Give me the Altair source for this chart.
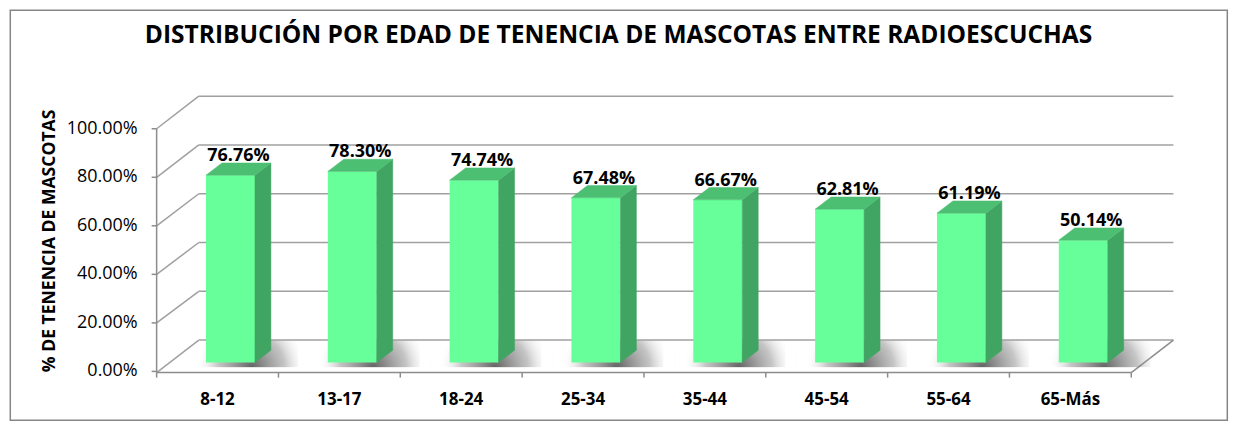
import altair as alt
import pandas as pd

# ---- data ----
categories = ["8-12", "13-17", "18-24", "25-34", "35-44", "45-54", "55-64", "65-Más"]
values = [76.76, 78.30, 74.74, 67.48, 66.67, 62.81, 61.19, 50.14]
y_ticks = [0, 20, 40, 60, 80, 100]
title_text = "DISTRIBUCIÓN POR EDAD DE TENENCIA DE MASCOTAS ENTRE RADIOESCUCHAS"
y_title = "% DE TENENCIA DE MASCOTAS"

# ---- pseudo-3D geometry (style constants, in data units) ----
BAR_L, BAR_W = 0.405, 0.402
BASE, SCALE = 3.7, 1.005
DX, DY = 0.131, 5.05
WALL_DX, WALL_Y0, WALL_SCALE = 0.346, 12.9, 1.0054
FLOOR_Y = -0.5
N = len(categories)
PX_X = 1 / 122.1     # one pixel in x data units
PX_Y = 1 / 2.432     # one pixel in y data units

FRONT, SIDE, TOP = "#66FF99", "#40A563", "#4CBF73"
GRID = "#A0A0A0"
AXC = "#8C8C8C"
FONT = "Open Sans"

xs = alt.Scale(domain=[0, N + 0.36], nice=False, zero=False)
ys = alt.Scale(domain=[FLOOR_Y, 114.2], nice=False, zero=False)

rows = []
for i, (c, v) in enumerate(zip(categories, values)):
    xl = i + BAR_L
    xr = xl + BAR_W
    yb = BASE
    yt = BASE + SCALE * v
    rows.append(dict(cat=c, v=v, xl=xl, xr=xr, yb=yb, yt=yt,
                     xc=(xl + xr) / 2 + DX / 2, ylab=yt + DY, xcat=i + 0.5,
                     sx0=i + 0.25, sx1=i + 1.16, sy0=BASE - 2.0, sy1=WALL_Y0 - 0.3,
                     yc=FLOOR_Y, lab=f"{v:.2f}%"))
bars = pd.DataFrame(rows)

side_rows, top_rows = [], []
for r in rows:
    side_rows.append(dict(cat=r["cat"], sxp=r["xr"], slo=r["yb"], shi=r["yt"]))
    side_rows.append(dict(cat=r["cat"], sxp=r["xr"] + DX, slo=r["yb"] + DY, shi=r["yt"] + DY))
    top_rows.append(dict(cat=r["cat"], typ=r["yt"], txa=r["xl"], txb=r["xr"]))
    top_rows.append(dict(cat=r["cat"], typ=r["yt"] + DY, txa=r["xl"] + DX, txb=r["xr"] + DX))
side = pd.DataFrame(side_rows)
top = pd.DataFrame(top_rows)

grid = pd.DataFrame(dict(v=y_ticks))
grid["yback"] = WALL_Y0 + WALL_SCALE * grid["v"]
grid["yfront"] = grid["v"].where(grid["v"] > 0, FLOOR_Y)
grid["x0"] = 0.0
grid["xw"] = WALL_DX
grid["x1"] = N + WALL_DX
grid["xt"] = -5 * PX_X
grid["lab"] = [f"{t:.2f}%" for t in y_ticks]

xticks = pd.DataFrame(dict(tx=[float(k) for k in range(N + 1)]))
xticks["ty0"] = FLOOR_Y
xticks["ty1"] = FLOOR_Y - 5 * PX_Y

edges = pd.DataFrame([
    dict(ex=0.0, ex2=0.0, ey=FLOOR_Y, ey2=100.0),
    dict(ex=0.0, ex2=float(N), ey=FLOOR_Y, ey2=FLOOR_Y),
    dict(ex=float(N), ex2=N + WALL_DX, ey=FLOOR_Y, ey2=WALL_Y0),
])

frame = alt.Chart(pd.DataFrame({"a": [0]})).mark_rect(
    filled=False, stroke="#868686", strokeWidth=1.5
).encode(x=alt.value(-146.7), x2=alt.value(1073.3), y=alt.value(-84.2), y2=alt.value(326.8))

title_mark = alt.Chart(pd.DataFrame({"t": [title_text]})).mark_text(
    font=FONT, fontSize=24.6, fontWeight="bold", color="black", baseline="alphabetic", align="center"
).encode(x=alt.value(463), y=alt.value(-51), text="t:N")

ytitle_mark = alt.Chart(pd.DataFrame({"t": [y_title]})).mark_text(
    font=FONT, fontSize=17.6, fontWeight="bold", color="black", baseline="middle", align="center",
    angle=270,
).encode(x=alt.value(-107), y=alt.value(147), text="t:N")

def X(f):
    return alt.X(f, scale=xs, axis=None)

def Y(f, **kw):
    return alt.Y(f, scale=ys, axis=None, **kw)

back_lines = alt.Chart(grid).mark_rule(color=GRID, strokeWidth=1.5).encode(
    x=X("xw:Q"), x2="x1:Q", y=Y("yback:Q"), y2="yback:Q",
)
wall_lines = alt.Chart(grid).mark_rule(color=GRID, strokeWidth=1.5).encode(
    x=X("x0:Q"), x2="xw:Q", y=Y("yfront:Q"), y2="yback:Q",
)
edge_lines = alt.Chart(edges).mark_rule(color=AXC, strokeWidth=1.5).encode(
    x=X("ex:Q"), x2="ex2:Q", y=Y("ey:Q"), y2="ey2:Q",
)
ytick_marks = alt.Chart(grid).mark_rule(color=AXC, strokeWidth=1.5).encode(
    x=X("xt:Q"), x2="x0:Q", y=Y("v:Q"), y2="v:Q",
)
xtick_marks = alt.Chart(xticks).mark_rule(color=AXC, strokeWidth=1.5).encode(
    x=X("tx:Q"), x2="tx:Q", y=Y("ty0:Q"), y2="ty1:Q",
)
ytick_labels = alt.Chart(grid).mark_text(
    font=FONT, fontSize=18, color="black", align="right", baseline="middle", dx=-19,
).encode(x=X("x0:Q"), y=Y("v:Q"), text="lab:N")

shadow_grad = alt.Gradient(
    gradient="radial", x1=0.58, y1=0.62, r1=0, x2=0.58, y2=0.62, r2=0.5,
    stops=[alt.GradientStop(color="rgba(60,60,60,0.8)", offset=0),
           alt.GradientStop(color="rgba(110,110,110,0.4)", offset=0.6),
           alt.GradientStop(color="rgba(255,255,255,0)", offset=1)],
)
shadows = alt.Chart(bars).mark_rect(color=shadow_grad).encode(
    x=X("sx0:Q"), x2="sx1:Q", y=Y("sy0:Q"), y2="sy1:Q",
)

front = alt.Chart(bars).mark_rect(color=FRONT).encode(
    x=X("xl:Q"), x2="xr:Q", y=Y("yb:Q"), y2="yt:Q",
)
side_face = alt.Chart(side).mark_area(
    color=SIDE, stroke=SIDE, strokeWidth=0.5, orient="vertical", interpolate="linear"
).encode(
    x=X("sxp:Q"), y=Y("slo:Q", stack=None), y2="shi:Q", detail="cat:N",
)
top_face = alt.Chart(top).mark_area(
    color=TOP, stroke=TOP, strokeWidth=0.5, orient="horizontal", interpolate="linear"
).encode(
    y=Y("typ:Q"), x=alt.X("txa:Q", scale=xs, axis=None, stack=None), x2="txb:Q",
    detail="cat:N",
)

value_labels = alt.Chart(bars).mark_text(
    font=FONT, fontSize=18, fontWeight="bold", color="black", baseline="alphabetic", dy=-2
).encode(x=X("xc:Q"), y=Y("ylab:Q"), text="lab:N")

cat_labels = alt.Chart(bars).mark_text(
    font=FONT, fontSize=17, fontWeight="bold", color="black", baseline="alphabetic", dy=32
).encode(x=X("xcat:Q"), y=Y("yc:Q"), text="cat:N")

chart = alt.layer(
    frame, title_mark, ytitle_mark, back_lines, wall_lines, edge_lines, ytick_marks,
    xtick_marks, ytick_labels, shadows, front, side_face, top_face, value_labels, cat_labels,
).properties(
    width=1021, height=279, padding=1,
).configure(background="white").configure_view(stroke=None)

chart.save("out.html", embed_options={"renderer": "svg", "actions": False})
